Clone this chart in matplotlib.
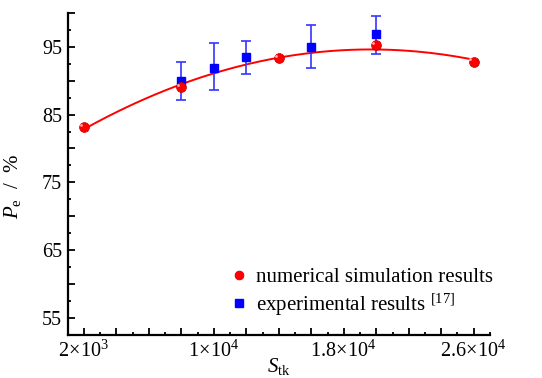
import matplotlib
matplotlib.use("Agg")
import matplotlib.pyplot as plt
import numpy as np
from matplotlib.ticker import MultipleLocator, FuncFormatter

plt.rcParams['font.family'] = ['Liberation Serif', 'DejaVu Serif']
plt.rcParams['mathtext.fontset'] = 'custom'
plt.rcParams['mathtext.rm'] = 'Liberation Serif'
plt.rcParams['mathtext.it'] = 'Liberation Serif:italic'

# numerical simulation
sim_x = [2000, 8000, 14000, 20000, 26000]
sim_y = [83.1, 89.0, 93.3, 95.2, 92.8]

# experiment [17]
exp_x = [8000, 10000, 12000, 16000, 20000]
exp_y = [89.9, 91.9, 93.5, 95.0, 96.9]
exp_lo = [2.8, 3.3, 2.5, 3.2, 2.9]
exp_hi = [2.9, 3.6, 2.4, 3.2, 2.7]

x_labels = {2000: r'$2\!\times\!10^{3}$', 10000: r'$1\!\times\!10^{4}$',
            18000: r'$1.8\!\times\!10^{4}$', 26000: r'$2.6\!\times\!10^{4}$'}
y_labels = [55, 65, 75, 85, 95]

fig = plt.figure(figsize=(5.42, 3.78), dpi=100)
ax = fig.add_axes([0.125, 0.114, 0.779, 0.852])

# quadratic fit line through the simulation points
coef = np.polyfit(sim_x, sim_y, 2)
xs = np.linspace(min(sim_x), max(sim_x), 200)
ax.plot(xs, np.polyval(coef, xs), '-', c='#ff0000', lw=1.4, zorder=2)

ax.errorbar(exp_x, exp_y, yerr=[exp_lo, exp_hi], fmt='none', ecolor='#3535ff',
            elinewidth=1.2, capsize=3.5, capthick=1.2, zorder=3)
ax.plot(exp_x, exp_y, 's', c='#0000ff', ms=6, mec='#0000ff', zorder=4,
        label='experimental results $^{[17]}$')

ax.plot(sim_x, sim_y, 'o', c='#ff0000', ms=7, mec='#d00000', mew=0.6, zorder=5,
        label='numerical simulation results')
# small highlight so the dots look like balls
ax.plot(np.array(sim_x) - 200, np.array(sim_y) + 0.35, 'o', c='#ffb0b0', ms=2,
        mew=0, zorder=6)

ax.set_xlim(1000, 27000)
ax.set_ylim(52.5, 100)

ax.xaxis.set_major_locator(MultipleLocator(2000))
ax.xaxis.set_minor_locator(MultipleLocator(1000))
ax.xaxis.set_major_formatter(FuncFormatter(lambda v, p: x_labels.get(int(round(v)), '')))
ax.yaxis.set_major_locator(MultipleLocator(5))
ax.yaxis.set_minor_locator(MultipleLocator(2.5))
ax.yaxis.set_major_formatter(FuncFormatter(
    lambda v, p: '%d' % round(v) if int(round(v)) in y_labels else ''))

for s in ['top', 'right']:
    ax.spines[s].set_visible(False)
for s in ['left', 'bottom']:
    ax.spines[s].set_linewidth(1.6)
ax.tick_params(which='major', direction='in', length=5, width=1.3, labelsize=14.5, pad=4)
ax.tick_params(which='minor', direction='in', length=2.5, width=1.3)

ax.set_xlabel(r'$S_{\rm tk}$', fontsize=15)
ax.xaxis.set_label_coords(0.5, -0.066)
ax.set_ylabel(r'$P_{\rm e}$  /  %', fontsize=15)
ax.yaxis.set_label_coords(-0.105, 0.46)

h, l = ax.get_legend_handles_labels()
ax.legend(h[::-1], l[::-1], loc='lower left', bbox_to_anchor=(0.35, 0.015),
          frameon=False, fontsize=15, handletextpad=0.25, handlelength=1.1,
          labelspacing=0.2, markerscale=0.9, borderaxespad=0.2)

fig.savefig('out.png', dpi=100)
